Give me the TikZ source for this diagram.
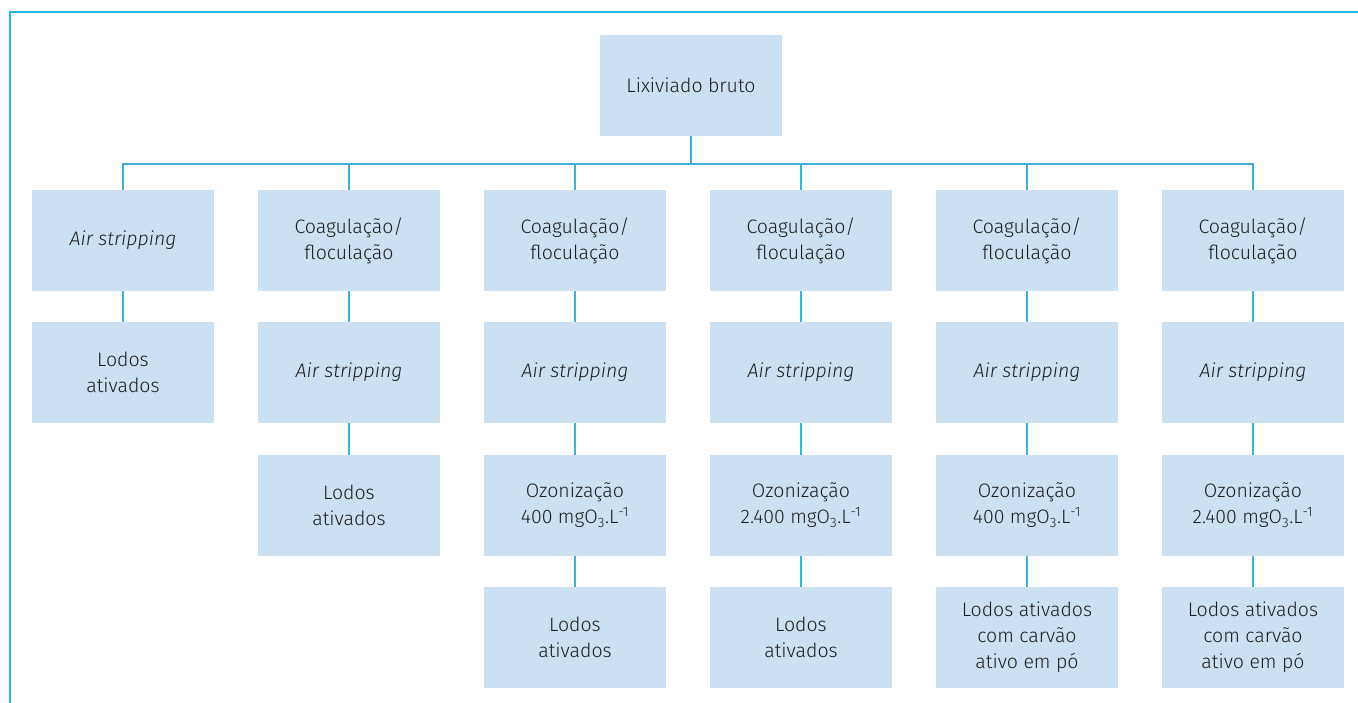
\documentclass[tikz,border=0pt]{standalone}
\usepackage{fontspec}
\setmainfont{Fira Sans}[UprightFont=* Light, ItalicFont=* Light Italic]
\usepackage{xcolor}
\usetikzlibrary{positioning, calc}
\definecolor{boxblue}{RGB}{204,224,241}
\definecolor{linkblue}{RGB}{62,176,220}
\definecolor{framecyan}{RGB}{40,182,232}
\definecolor{textgray}{RGB}{30,30,30}

\tikzset{
  procbox/.style={rectangle, fill=boxblue, minimum width=182pt, minimum height=101pt, inner sep=0pt, align=center, text=textgray, font=\fontsize{19.5}{26}\selectfont},
  link/.style={draw=linkblue, line width=1.6pt}
}

\begin{document}
\begin{tikzpicture}[x=1pt, y=-1pt]
\useasboundingbox (0,0) rectangle (1358,703);
\draw[framecyan, line width=2pt] (10,703) -- (10,12) -- (1358,12);

\node[procbox] (lix) at (691,85.5) {Lixiviado bruto};

% column 1
\node[procbox] (as1) at (123,240.5) {\itshape Air stripping};
\node[procbox] (lod1) at (123,372.5) {Lodos\\ativados};
% column 2
\node[procbox] (cf2) at (349,240.5) {Coagulação/\\floculação};
\node[procbox] (as2) at (349,372.5) {\itshape Air stripping};
\node[procbox] (lod2) at (349,505.5) {Lodos\\ativados};
% column 3
\node[procbox] (cf3) at (575,240.5) {Coagulação/\\floculação};
\node[procbox] (as3) at (575,372.5) {\itshape Air stripping};
\node[procbox] (oz3) at (575,505.5) {Ozonização\\400 mgO\textsubscript{3}.L\textsuperscript{-1}};
\node[procbox] (lod3) at (575,637.5) {Lodos\\ativados};
% column 4
\node[procbox] (cf4) at (801,240.5) {Coagulação/\\floculação};
\node[procbox] (as4) at (801,372.5) {\itshape Air stripping};
\node[procbox] (oz4) at (801,505.5) {Ozonização\\2.400 mgO\textsubscript{3}.L\textsuperscript{-1}};
\node[procbox] (lod4) at (801,637.5) {Lodos\\ativados};
% column 5
\node[procbox] (cf5) at (1027,240.5) {Coagulação/\\floculação};
\node[procbox] (as5) at (1027,372.5) {\itshape Air stripping};
\node[procbox] (oz5) at (1027,505.5) {Ozonização\\400 mgO\textsubscript{3}.L\textsuperscript{-1}};
\node[procbox] (cap5) at (1027,637.5) {Lodos ativados\\com carvão\\ativo em pó};
% column 6
\node[procbox] (cf6) at (1253,240.5) {Coagulação/\\floculação};
\node[procbox] (as6) at (1253,372.5) {\itshape Air stripping};
\node[procbox] (oz6) at (1253,505.5) {Ozonização\\2.400 mgO\textsubscript{3}.L\textsuperscript{-1}};
\node[procbox] (cap6) at (1253,637.5) {Lodos ativados\\com carvão\\ativo em pó};

% branching
\coordinate (bus) at (691,164);
\draw[link] (lix.south) -- (bus);
\draw[link] (as1.north) |- (bus) -| (cf6.north);
\draw[link] (cf2.north) -- (cf2.north |- bus);
\draw[link] (cf3.north) -- (cf3.north |- bus);
\draw[link] (cf4.north) -- (cf4.north |- bus);
\draw[link] (cf5.north) -- (cf5.north |- bus);

% chains
\draw[link] (as1) -- (lod1);
\draw[link] (cf2) -- (as2);
\draw[link] (as2) -- (lod2);
\draw[link] (cf3) -- (as3);
\draw[link] (as3) -- (oz3);
\draw[link] (oz3) -- (lod3);
\draw[link] (cf4) -- (as4);
\draw[link] (as4) -- (oz4);
\draw[link] (oz4) -- (lod4);
\draw[link] (cf5) -- (as5);
\draw[link] (as5) -- (oz5);
\draw[link] (oz5) -- (cap5);
\draw[link] (cf6) -- (as6);
\draw[link] (as6) -- (oz6);
\draw[link] (oz6) -- (cap6);
\end{tikzpicture}
\end{document}
